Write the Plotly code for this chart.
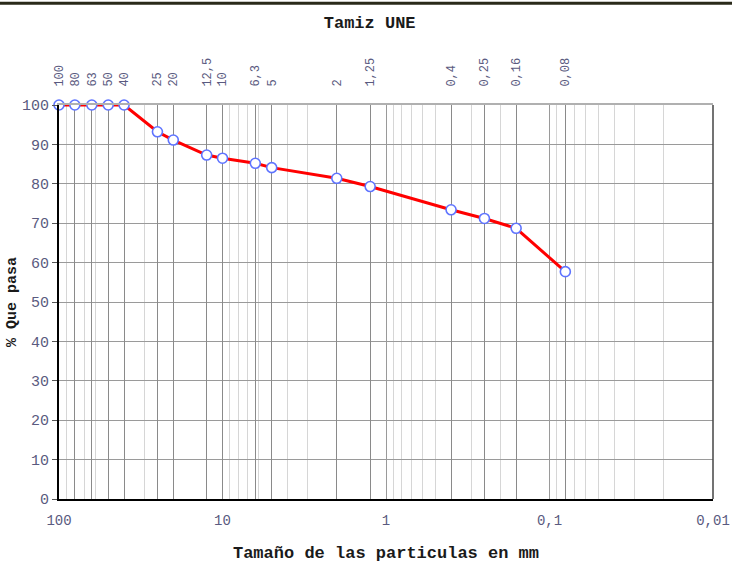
import plotly.graph_objects as go

# Sieve sizes (mm) and % passing
sizes = [100, 80, 63, 50, 40, 25, 20, 12.5, 10, 6.3, 5, 2, 1.25, 0.4, 0.25, 0.16, 0.08]
passing = [100, 100, 100, 100, 100, 93.2, 91.1, 87.3, 86.5, 85.2, 84.1, 81.4, 79.3, 73.4, 71.2, 68.7, 57.7]
sieve_labels = ["100", "80", "63", "50", "40", "25", "20", "12,5", "10", "6,3", "5",
                "2", "1,25", "0,4", "0,25", "0,16", "0,08"]
bottom_vals = [100, 10, 1, 0.1, 0.01]
bottom_labels = ["100", "10", "1", "0,1", "0,01"]
minor_vals = [m * 10 ** d for d in range(-2, 2) for m in range(2, 10)]

FONT = "Liberation Mono, Courier New, monospace"
TICKCOL = "#5a5a80"
TITLECOL = "#1a1a1a"

fig = go.Figure()
fig.add_trace(go.Scatter(
    x=sizes, y=passing, mode="lines+markers",
    line=dict(color="#ff0000", width=3),
    marker=dict(symbol="circle", size=10, color="white",
                line=dict(color="#5f74ff", width=1.6)),
    cliponaxis=False, showlegend=False, xaxis="x", yaxis="y"))
# invisible trace to anchor the top sieve axis
fig.add_trace(go.Scatter(x=sizes, y=passing, mode="markers",
                         marker=dict(opacity=0), hoverinfo="skip",
                         showlegend=False, xaxis="x2", yaxis="y"))

fig.update_layout(
    width=732, height=563,
    margin=dict(l=59, r=19, t=105, b=64),
    paper_bgcolor="white", plot_bgcolor="white",
    font=dict(family=FONT, size=11, color=TICKCOL),
    title=dict(text="<b>Tamiz UNE</b>", xref="paper", x=0.475, xanchor="center",
               yref="container", y=0.961, yanchor="middle",
               font=dict(family=FONT, size=17, color=TITLECOL)),
    xaxis=dict(
        type="log", range=[2, -2], tickmode="array",
        tickvals=bottom_vals, ticktext=bottom_labels,
        showgrid=True, gridcolor="#9a9a9a", gridwidth=1,
        minor=dict(tickmode="array", tickvals=minor_vals, showgrid=True,
                   gridcolor="#d6d6d6", gridwidth=1, ticks=""),
        showline=True, linecolor="#000000", linewidth=2,
        ticks="", ticklabelstandoff=7, automargin=False,
        tickfont=dict(family=FONT, size=14, color=TICKCOL),
        title=dict(text="<b>Tamaño de las particulas en mm</b>", standoff=18,
                   font=dict(family=FONT, size=17, color=TITLECOL)),
        zeroline=False,
    ),
    xaxis2=dict(
        type="log", range=[2, -2], overlaying="x", side="top",
        tickmode="array", tickvals=sizes, ticktext=sieve_labels,
        tickangle=-90, showgrid=True, gridcolor="#8a8a8a", gridwidth=1,
        ticks="", ticklabelstandoff=14, automargin=False,
        tickfont=dict(family=FONT, size=12, color=TICKCOL),
        showline=True, linecolor="#b0b0b0", linewidth=2, mirror=False,
        zeroline=False,
    ),
    yaxis=dict(
        range=[0, 100], tickmode="linear", dtick=10,
        showgrid=True, gridcolor="#9a9a9a", gridwidth=1,
        showline=True, linecolor="#000000", linewidth=2,
        ticks="outside", ticklen=5, tickcolor="#555555", automargin=False,
        tickfont=dict(family=FONT, size=15, color=TICKCOL),
        title=dict(text="<b>% Que pasa</b>", standoff=2,
                   font=dict(family=FONT, size=15, color=TITLECOL)),
        zeroline=False,
    ),
    shapes=[
        # right border of plot
        dict(type="line", xref="paper", yref="paper", x0=1, x1=1, y0=0, y1=1,
             line=dict(color="#444444", width=1.5)),
        # frame line at the top of the picture
        dict(type="line", xref="paper", yref="paper", x0=-0.2, x1=1.2,
             y0=1.258, y1=1.258, line=dict(color="#2a2a1a", width=3)),
    ],
)

fig.write_html("out.html",
               config={"displayModeBar": False},
               post_script="document.body.style.margin='0';document.body.style.overflow='hidden';")
